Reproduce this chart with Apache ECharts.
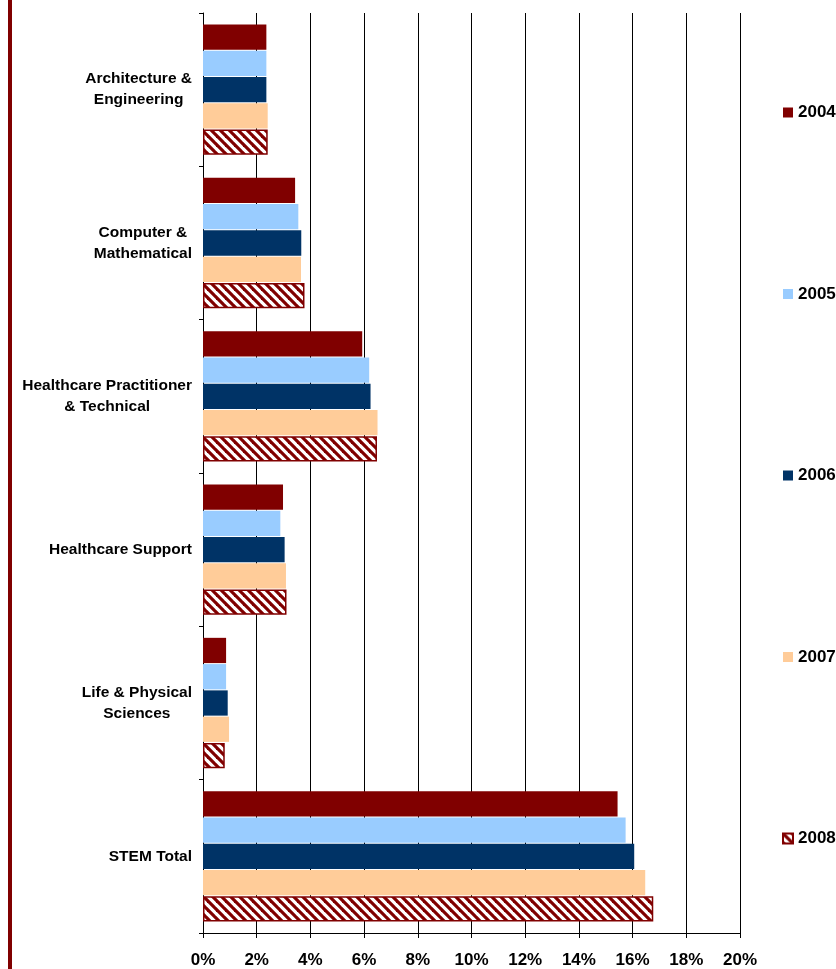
<!DOCTYPE html>
<html>
<head>
<meta charset="utf-8">
<script src="https://cdn.jsdelivr.net/npm/echarts@6/dist/echarts.min.js"></script>
<style>
html,body{margin:0;padding:0;background:#fff;}
#chart{width:836px;height:969px;}
</style>
</head>
<body>
<div id="chart"></div>
<script>
const categories = ['Architecture &\nEngineering', 'Computer &\nMathematical', 'Healthcare Practitioner\n& Technical', 'Healthcare Support', 'Life & Physical\nSciences', 'STEM Total'];
const years = ['2004', '2005', '2006', '2007', '2008'];
const v2004 = [2.36, 3.43, 5.93, 2.98, 0.86, 15.44];
const v2005 = [2.36, 3.55, 6.19, 2.88, 0.86, 15.74];
const v2006 = [2.36, 3.66, 6.24, 3.04, 0.92, 16.06];
const v2007 = [2.41, 3.65, 6.50, 3.09, 0.97, 16.47];
const v2008 = [2.41, 3.78, 6.48, 3.11, 0.81, 16.77];
const xTicks = [0, 2, 4, 6, 8, 10, 12, 14, 16, 18, 20];

const FONT = "'Liberation Sans', Arial, sans-serif";

function makePattern() {
  const s = 9;
  const c = document.createElement('canvas');
  c.width = s; c.height = s;
  const g = c.getContext('2d');
  g.fillStyle = '#ffffff';
  g.fillRect(0, 0, s, s);
  g.strokeStyle = '#800000';
  g.lineWidth = 3.2;
  for (const k of [-s, 0, s]) {
    g.beginPath();
    g.moveTo(-2, -2 + k);
    g.lineTo(s + 2, s + 2 + k);
    g.stroke();
  }
  return c;
}

const colors = ['#800000', '#99CCFF', '#003366', '#FFCC99', {image: makePattern(), repeat: 'repeat'}];
const values = [v2004, v2005, v2006, v2007, v2008];

const chart = echarts.init(document.getElementById('chart'), null, {renderer: 'canvas'});

const series = years.map((y, i) => ({
  name: y,
  type: 'bar',
  data: values[i],
  barCategoryGap: '15%',
  barGap: '4%',
  itemStyle: i === 4
    ? {color: colors[i], borderColor: '#800000', borderWidth: 1.5}
    : {color: colors[i]},
  emphasis: {disabled: true},
  animation: false
}));

chart.setOption({
  animation: false,
  backgroundColor: '#ffffff',
  grid: {left: 203, right: 96, top: 13, bottom: 36, containLabel: false},
  legend: {
    orient: 'vertical',
    left: 782,
    top: 104,
    padding: 0,
    itemWidth: 10,
    itemHeight: 10,
    itemGap: 164.5,
    icon: 'rect',
    selectedMode: false,
    data: years,
    textStyle: {fontFamily: FONT, fontSize: 17, fontWeight: 'bold', color: '#000'}
  },
  xAxis: {
    type: 'value',
    min: xTicks[0],
    max: xTicks[xTicks.length - 1],
    interval: 2,
    axisLine: {show: true, lineStyle: {color: '#000', width: 1}},
    axisTick: {show: true, length: 5, lineStyle: {color: '#000'}},
    splitLine: {show: true, lineStyle: {color: '#000', width: 1}},
    axisLabel: {
      formatter: '{value}%',
      margin: 19,
      fontFamily: FONT, fontSize: 17, fontWeight: 'bold', color: '#000'
    }
  },
  yAxis: {
    type: 'category',
    inverse: true,
    data: categories,
    axisLine: {show: true, lineStyle: {color: '#000', width: 1}},
    axisTick: {show: true, length: 4, interval: 0, lineStyle: {color: '#000'}},
    axisLabel: {
      margin: 11,
      interval: 0,
      formatter: function (val) {
        return val.split('\n').map(s => '{a|' + s + '}').join('\n');
      },
      rich: {
        a: {align: 'center', fontFamily: FONT, fontSize: 15.5, fontWeight: 'bold', color: '#000', lineHeight: 21}
      }
    }
  },
  graphic: [{
    type: 'rect',
    left: 8, top: 0,
    shape: {width: 4, height: 969},
    style: {fill: '#800000'},
    silent: true
  }],
  series: series
});
</script>
</body>
</html>
